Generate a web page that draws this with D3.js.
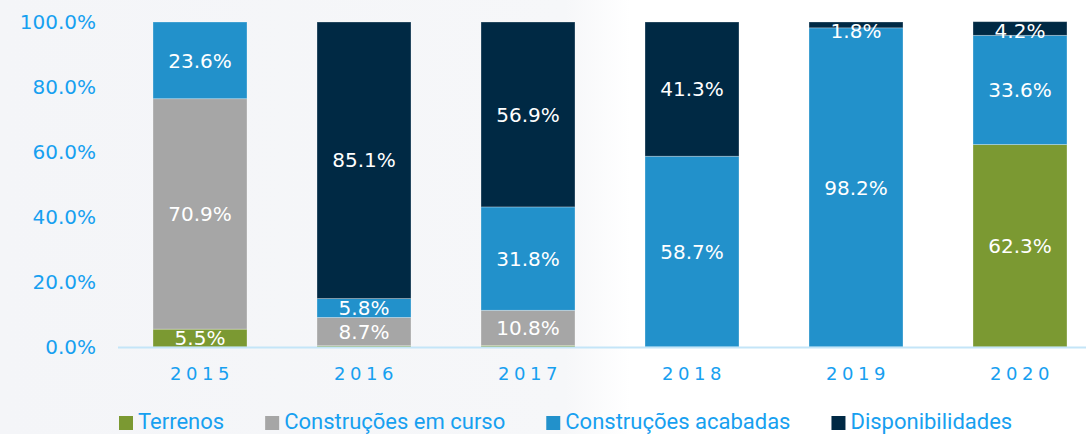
<!DOCTYPE html>
<html>
<head>
<meta charset="utf-8">
<script src="https://cdn.jsdelivr.net/npm/d3@7"></script>
<style>
  html, body { margin: 0; padding: 0; background: #ffffff; }
  svg { display: block; }
</style>
</head>
<body>
<div id="chart"></div>
<script>
const years = ["2015", "2016", "2017", "2018", "2019", "2020"];
const seriesNames = ["Terrenos", "Construções em curso", "Construções acabadas", "Disponibilidades"];
const terrenos = [5.5, 0.4, 0.5, 0, 0, 62.3];
const emCurso = [70.9, 8.7, 10.8, 0, 0, 0];
const acabadas = [23.6, 5.8, 31.8, 58.7, 98.2, 33.6];
const disponibilidades = [0, 85.1, 56.9, 41.3, 1.8, 4.2];
const yTicks = [0, 20, 40, 60, 80, 100];
const colors = ["#7b9932", "#a6a6a6", "#2291cb", "#002944"];

const W = 1086, H = 434;
const blue = "#17a0f0";

const rows = years.map((y, i) => ({
    year: y,
    "Terrenos": terrenos[i],
    "Construções em curso": emCurso[i],
    "Construções acabadas": acabadas[i],
    "Disponibilidades": disponibilidades[i]
}));

const svg = d3.select("#chart").append("svg")
    .attr("width", W)
    .attr("height", H);

// fond légèrement gris à gauche, blanc à droite
const defs = svg.append("defs");
const grad = defs.append("linearGradient").attr("id", "bg")
    .attr("x1", "0").attr("y1", "0").attr("x2", "1").attr("y2", "0");
grad.append("stop").attr("offset", "0").attr("stop-color", "#f4f5f8");
grad.append("stop").attr("offset", "0.52").attr("stop-color", "#f6f7f9");
grad.append("stop").attr("offset", "0.58").attr("stop-color", "#ffffff");
grad.append("stop").attr("offset", "1").attr("stop-color", "#ffffff");
svg.append("rect").attr("width", W).attr("height", H).attr("fill", "url(#bg)");

const x = d3.scaleBand()
    .domain(years)
    .range([118, 1102])
    .paddingInner(0.427)
    .paddingOuter(0.2135);

const y = d3.scaleLinear()
    .domain([0, 100])
    .range([347, 22]);

const stack = d3.stack().keys(seriesNames);
const stacked = stack(rows);

// axe Y
const yAxis = svg.append("g")
    .attr("transform", "translate(96,0)")
    .call(d3.axisLeft(y).tickValues(yTicks).tickSize(0).tickPadding(0).tickFormat(d => d.toFixed(1) + "%"));
yAxis.select(".domain").remove();
yAxis.selectAll("text")
    .attr("fill", blue)
    .style("font-family", "DejaVu Sans")
    .style("font-size", "20px");

// barres
const layers = svg.append("g").selectAll("g")
    .data(stacked)
    .join("g")
    .attr("fill", (d, i) => colors[i]);

layers.selectAll("rect")
    .data(d => d.map(p => Object.assign(p, { key: d.key })))
    .join("rect")
    .attr("x", d => x(d.data.year))
    .attr("y", d => y(d[1]))
    .attr("width", x.bandwidth())
    .attr("height", d => y(d[0]) - y(d[1]))
    .attr("stroke", "rgba(255,255,255,0.35)")
    .attr("stroke-width", 0.8);

// ligne de base
svg.append("line")
    .attr("x1", 118).attr("x2", W)
    .attr("y1", y(0) + 0.5).attr("y2", y(0) + 0.5)
    .attr("stroke", "#c4e5f8")
    .attr("stroke-width", 2);

// étiquettes des valeurs
const labels = [];
stacked.forEach(layer => layer.forEach(p => {
    const v = p[1] - p[0];
    if (v >= 1) labels.push({ year: p.data.year, v, y0: p[0], y1: p[1] });
}));
svg.append("g").selectAll("text")
    .data(labels)
    .join("text")
    .attr("x", d => x(d.year) + x.bandwidth() / 2)
    .attr("y", d => Math.max((y(d.y0) + y(d.y1)) / 2, y(100) + 9))
    .attr("dy", "0.36em")
    .attr("text-anchor", "middle")
    .attr("fill", "#ffffff")
    .style("font-family", "DejaVu Sans")
    .style("font-size", "20px")
    .text(d => d.v.toFixed(1) + "%");

// axe X
const xAxis = svg.append("g")
    .attr("transform", `translate(0,${y(0)})`)
    .call(d3.axisBottom(x).tickSize(0).tickPadding(0));
xAxis.select(".domain").remove();
xAxis.selectAll("text")
    .attr("y", 33)
    .attr("dy", 0)
    .attr("dx", 2)
    .attr("fill", blue)
    .style("font-family", "DejaVu Sans")
    .style("font-size", "18px")
    .style("letter-spacing", "4.5px");

// légende
const legend = svg.append("g").attr("transform", "translate(119,0)");
let lx = 0;
seriesNames.forEach((name, i) => {
    const g = legend.append("g").attr("transform", `translate(${lx},0)`);
    g.append("rect")
        .attr("x", 0).attr("y", 416)
        .attr("width", 14).attr("height", 14)
        .attr("fill", colors[i]);
    const t = g.append("text")
        .attr("x", 19).attr("y", 429)
        .attr("fill", blue)
        .style("font-family", "Roboto")
        .style("font-size", "22px")
        .text(name);
    lx += 19 + t.node().getComputedTextLength() + 41;
});
</script>
</body>
</html>
